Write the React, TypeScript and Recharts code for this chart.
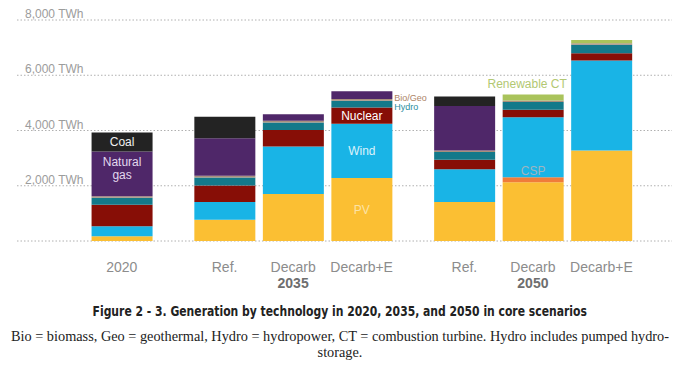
import React from 'react';
import { BarChart, Bar, XAxis, YAxis, CartesianGrid } from 'recharts';

// scenarios along the x axis, grouped by year
const scenarios = ['2020', 'Ref.', 'Decarb', 'Decarb+E', 'Ref.', 'Decarb', 'Decarb+E'];
const years = ['2020', '2035', '2035', '2035', '2050', '2050', '2050'];

// generation, TWh (bottom of the stack first)
const pv = [170, 770, 1700, 2280, 1410, 2130, 3280];
const csp = [0, 0, 0, 0, 0, 180, 0];
const wind = [360, 640, 1720, 1960, 1190, 2170, 3250];
const nuclear = [780, 600, 600, 590, 340, 270, 270];
const hydro = [260, 290, 270, 250, 280, 280, 300];
const bioGeo = [50, 60, 60, 60, 60, 60, 60];
const gas = [1620, 1360, 240, 280, 1610, 0, 0];
const coal = [690, 780, 0, 0, 340, 0, 0];
const renewableCT = [0, 0, 0, 0, 0, 210, 120];

const yTicks = [0, 2000, 4000, 6000, 8000];

const series = [
  { key: 'pv', values: pv, color: '#fbbf33' },
  { key: 'csp', values: csp, color: '#f07c3a' },
  { key: 'wind', values: wind, color: '#19b4e6' },
  { key: 'nuclear', values: nuclear, color: '#870e06' },
  { key: 'hydro', values: hydro, color: '#13798a' },
  { key: 'bioGeo', values: bioGeo, color: '#a88f7c' },
  { key: 'gas', values: gas, color: '#4f2769' },
  { key: 'coal', values: coal, color: '#232323' },
  { key: 'renewableCT', values: renewableCT, color: '#a9c35b' },
];

// in-bar annotations: which segment, which scenario, how placed
const notes = [
  { key: 'coal', at: 0, lines: ['Coal'], place: 'center', color: '#f0f0f0', size: 12, dx: 0, dy: 0 },
  { key: 'gas', at: 0, lines: ['Natural', 'gas'], place: 'top', color: '#e2d8ee', size: 12, dx: 0, dy: 11 },
  { key: 'nuclear', at: 3, lines: ['Nuclear'], place: 'center', color: '#ffffff', size: 12, dx: 0, dy: 0 },
  { key: 'wind', at: 3, lines: ['Wind'], place: 'center', color: '#dcf2fb', size: 12, dx: 0, dy: 0 },
  { key: 'pv', at: 3, lines: ['PV'], place: 'center', color: '#fbe3a6', size: 12, dx: 0, dy: 0 },
  { key: 'bioGeo', at: 3, lines: ['Bio/Geo'], place: 'right', color: '#ad8466', size: 9, dx: 2, dy: -2 },
  { key: 'hydro', at: 3, lines: ['Hydro'], place: 'right', color: '#2a8ea0', size: 9, dx: 2, dy: 3 },
  { key: 'wind', at: 5, lines: ['CSP'], place: 'bottom', color: '#9fb4c0', size: 12, dx: 0, dy: -6 },
  { key: 'renewableCT', at: 5, lines: ['Renewable CT'], place: 'above', color: '#b2c872', size: 12, dx: -6, dy: -11 },
];

// half a slot of space between year groups
const xPos: number[] = [];
let shift = 0;
years.forEach((y, i) => {
  if (i > 0 && y !== years[i - 1]) shift += 0.5;
  xPos.push(i + shift);
});

const rows = scenarios.map((s, i) => {
  const row: any = { x: xPos[i], scenario: s, year: years[i] };
  series.forEach((sr) => {
    row[sr.key] = sr.values[i];
  });
  return row;
});

const chartW = 680;
const margin = { top: 20, right: 8, left: 0, bottom: 0 };
const yAxisW = 17;
const xDomain = [-1.53, 8.03];
const plotLeft = margin.left + yAxisW;
const plotRight = chartW - margin.right;

// find which scenario a bar rect belongs to from its centre
const scenarioAt = (cx: number) => {
  const v = xDomain[0] + ((cx - plotLeft) / (plotRight - plotLeft)) * (xDomain[1] - xDomain[0]);
  let best = 0;
  xPos.forEach((p, i) => {
    if (Math.abs(p - v) < Math.abs(xPos[best] - v)) best = i;
  });
  return best;
};

const labelFont = 'Arial, "Liberation Sans", Helvetica, sans-serif';

const makeLabel = (key: string) => (props: any) => {
  const { x, y, width, height } = props;
  if (x == null || width == null) return null;
  const idx = scenarioAt(x + width / 2);
  const note = notes.find((n) => n.key === key && n.at === idx);
  if (!note) return null;
  let tx = x + width / 2 + note.dx;
  let ty = y + height / 2 + note.dy;
  let anchor = 'middle';
  if (note.place === 'top' || note.place === 'above') ty = y + note.dy;
  if (note.place === 'bottom') ty = y + height + note.dy;
  if (note.place === 'right') {
    tx = x + width + note.dx;
    anchor = 'start';
  }
  const lh = note.size + 1;
  const first = note.place === 'top' ? ty : ty - ((note.lines.length - 1) * lh) / 2;
  return (
    <g>
      {note.lines.map((ln, k) => (
        <text
          key={k}
          x={tx}
          y={first + k * lh}
          textAnchor={anchor}
          dominantBaseline="central"
          fill={note.color}
          fontSize={note.size}
          fontFamily={labelFont}
        >
          {ln}
        </text>
      ))}
    </g>
  );
};

const XTick = (props: any) => {
  const { x, y, payload } = props;
  const i = xPos.indexOf(payload.value);
  if (i < 0) return null;
  const isMiddle = i > 0 && i < years.length - 1 && years[i - 1] === years[i] && years[i + 1] === years[i];
  return (
    <g>
      <text x={x} y={y + 31} textAnchor="middle" fill="#8c8c8c" fontSize={14} fontFamily={labelFont}>
        {scenarios[i]}
      </text>
      {isMiddle && (
        <text x={x} y={y + 47} textAnchor="middle" fill="#6e6e6e" fontSize={14} fontWeight="bold" fontFamily={labelFont}>
          {years[i]}
        </text>
      )}
    </g>
  );
};

const YTick = (props: any) => {
  const { y, payload } = props;
  if (!payload || payload.value === 0) return null;
  return (
    <text x={25} y={y - 2} fill="#9c9c9c" fontSize={12} fontFamily={labelFont} textAnchor="start">
      {`${Number(payload.value).toLocaleString('en-US')} TWh`}
    </text>
  );
};

const App = () => {
  return (
    <div style={{ position: 'absolute', left: 0, top: 0, width: 680, height: 367, background: '#fff' }}>
      <BarChart width={chartW} height={291} data={rows} margin={margin}>
        <CartesianGrid vertical={false} stroke="#b0b0b0" strokeDasharray="1.5 2" />
        <XAxis
          dataKey="x"
          type="number"
          domain={xDomain}
          ticks={xPos}
          interval={0}
          axisLine={false}
          tickLine={false}
          tickSize={0}
          tickMargin={0}
          height={50}
          tick={<XTick />}
        />
        <YAxis
          type="number"
          domain={[0, 8000]}
          ticks={yTicks}
          interval={0}
          width={yAxisW}
          axisLine={false}
          tickLine={false}
          tick={YTick}
        />
        {series.map((sr) => (
          <Bar
            key={sr.key}
            dataKey={sr.key}
            stackId="gen"
            fill={sr.color}
            barSize={61}
            isAnimationActive={false}
            label={makeLabel(sr.key)}
          />
        ))}
      </BarChart>
      <div
        style={{
          position: 'absolute',
          top: 303,
          left: 0,
          width: 680,
          textAlign: 'center',
          lineHeight: '16px',
          fontSize: 13.5,
          fontWeight: 'bold',
          color: '#222',
          fontFamily: '"DejaVu Sans Condensed", "Liberation Sans Narrow", Arial, sans-serif',
          whiteSpace: 'nowrap',
        }}
      >
        <span style={{ display: 'inline-block', transform: 'scaleX(0.89)' }}>
          Figure 2 - 3. Generation by technology in 2020, 2035, and 2050 in core scenarios
        </span>
      </div>
      <div
        style={{
          position: 'absolute',
          top: 328,
          left: 0,
          width: 680,
          textAlign: 'center',
          lineHeight: '16px',
          fontSize: 14.3,
          color: '#222',
          fontFamily: '"Liberation Serif", "Times New Roman", serif',
          whiteSpace: 'nowrap',
        }}
      >
        <div>Bio = biomass, Geo = geothermal, Hydro = hydropower, CT = combustion turbine. Hydro includes pumped hydro-</div>
        <div>storage.</div>
      </div>
    </div>
  );
};

export default App;
